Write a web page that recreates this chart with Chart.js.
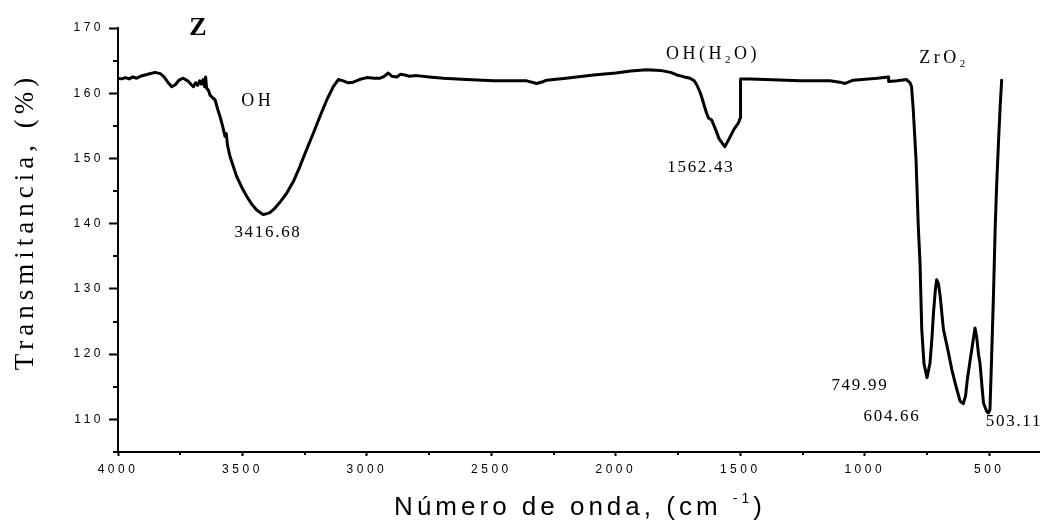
<!DOCTYPE html>
<html>
<head>
<meta charset="utf-8">
<script src="https://cdn.jsdelivr.net/npm/chart.js@4/dist/chart.umd.min.js"></script>
<style>
  html, body { margin: 0; padding: 0; background: #fff; }
  #c { display: block; }
</style>
</head>
<body>
<canvas id="c" width="1045" height="521"></canvas>
<script>
// FTIR spectrum of the Z sample: wavenumber (cm-1) vs transmittance (%)
const waveNumber = [
  4000, 3985, 3970, 3955, 3940, 3925, 3910, 3880, 3851, 3830,
  3815, 3800, 3784, 3770, 3755, 3738, 3720, 3705, 3697, 3688,
  3680, 3672, 3665, 3658, 3652, 3648, 3644, 3636, 3630, 3620,
  3610, 3600, 3590, 3580, 3570, 3565, 3560, 3550, 3537, 3523,
  3503, 3483, 3463, 3443, 3425, 3416.68, 3405, 3390, 3369, 3345,
  3322, 3295, 3269, 3242, 3215, 3188, 3161, 3135, 3115, 3095,
  3075, 3055, 3030, 3001, 2970, 2947, 2930, 2914, 2900, 2880,
  2865, 2847, 2830, 2800, 2750, 2693, 2600, 2492, 2400, 2358,
  2318, 2290, 2278, 2200, 2090, 2000, 1940, 1876, 1822, 1780,
  1755, 1725, 1702, 1685, 1675, 1660, 1648, 1636, 1628, 1615,
  1600, 1585, 1562.43, 1545, 1525, 1508, 1500, 1499, 1461, 1400,
  1260, 1140, 1100, 1079, 1046, 950, 905, 904, 870, 832,
  818, 812, 805, 794, 785, 778, 771, 762, 749.99, 738,
  730, 724, 716, 711, 704, 697, 684, 668, 650, 633,
  617, 604.66, 595, 588, 575, 557, 550, 543, 537, 530,
  523, 510, 503.11, 497, 490, 483, 476, 470, 463, 456,
  450
];
const transmittance = [
  162.3, 162.2, 162.4, 162.2, 162.5, 162.3, 162.6, 162.9, 163.2, 163.0,
  162.5, 161.7, 161.0, 161.3, 162.0, 162.3, 161.9, 161.3, 161.0, 161.6,
  161.2, 161.9, 161.4, 162.1, 161.0, 162.5, 160.8, 160.4, 159.7, 159.3,
  159.0, 157.6, 156.4, 155.0, 153.4, 153.8, 152.0, 150.3, 148.8, 147.2,
  145.6, 144.2, 143.0, 142.1, 141.6, 141.4, 141.5, 141.7, 142.4, 143.5,
  144.7, 146.5, 148.8, 151.4, 153.9, 156.5, 159.0, 161.0, 162.1, 161.9,
  161.6, 161.7, 162.1, 162.4, 162.3, 162.3, 162.6, 163.1, 162.6, 162.5,
  162.9, 162.8, 162.6, 162.7, 162.5, 162.3, 162.1, 161.9, 161.9, 161.9,
  161.5, 161.8, 162.0, 162.3, 162.8, 163.1, 163.4, 163.6, 163.5, 163.2,
  162.8, 162.5, 162.3, 161.9, 161.3, 160.0, 158.5, 157.0, 156.2, 155.9,
  154.5, 153.0, 151.8, 153.0, 154.5, 155.4, 156.2, 162.2, 162.2, 162.1,
  161.9, 161.9, 161.7, 161.5, 162.0, 162.3, 162.5, 161.8, 161.9, 162.1,
  161.6, 161.0, 157.4, 149.8, 139.6, 134.0, 123.8, 118.5, 116.4, 118.6,
  122.5, 126.3, 130.0, 131.4, 130.8, 128.9, 123.8, 121.0, 117.6, 115.0,
  112.8, 112.4, 113.6, 116.1, 119.5, 124.0, 122.5, 120.0, 118.6, 115.5,
  112.5, 111.2, 111.0, 111.5, 120.0, 128.9, 139.4, 146.0, 152.3, 158.0,
  162.0
];

// Axis ticks
const xTickValues = [4000, 3500, 3000, 2500, 2000, 1500, 1000, 500];
const xMinorTicks = [3750, 3250, 2750, 2250, 1750, 1250, 750];
const yTickValues = [110, 120, 130, 140, 150, 160, 170];
const yMinorTicks = [105, 115, 125, 135, 145, 155, 165];

// Band labels, anchored in data units (text centre)
const bandLabels = [
  { parts: [{ t: 'Z' }], x: 3679, y: 170, size: 26, spacing: 0, bold: true },
  { parts: [{ t: 'OH' }], x: 3446, y: 158.8, size: 18, spacing: 3.5 },
  { parts: [{ t: '3416.68' }], x: 3401, y: 138.7, size: 17, spacing: 1.7 },
  { parts: [{ t: 'OH(H' }, { t: '2', sub: true }, { t: 'O)' }], x: 1617, y: 165.9, size: 18, spacing: 3.5 },
  { parts: [{ t: '1562.43' }], x: 1662, y: 148.6, size: 17, spacing: 1.7 },
  { parts: [{ t: 'ZrO' }, { t: '2', sub: true }], x: 689, y: 165.4, size: 18, spacing: 3.5 },
  { parts: [{ t: '749.99' }], x: 1023, y: 115.2, size: 17, spacing: 1.7 },
  { parts: [{ t: '604.66' }], x: 894, y: 110.4, size: 17, spacing: 1.7 },
  { parts: [{ t: '503.11' }], x: 404, y: 109.7, size: 17, spacing: 1.7 }
];

const SERIF = '"Liberation Serif", "Times New Roman", serif';
const SANS = '"Liberation Sans", Arial, sans-serif';

// Draws a run of text pieces (with optional sub/superscripts) centred on cx
function drawRich(ctx, parts, cx, cy, size, spacing, family, bold, baseline) {
  ctx.save();
  ctx.fillStyle = '#000';
  ctx.textAlign = 'left';
  ctx.textBaseline = baseline || 'middle';
  ctx.letterSpacing = spacing + 'px';
  const fontFor = p => {
    const s = (p.sub || p.sup) ? Math.round(size * (p.scale || 0.62)) : size;
    return (bold ? 'bold ' : '') + s + 'px ' + family;
  };
  const widths = parts.map(p => { ctx.font = fontFor(p); return ctx.measureText(p.t).width; });
  const total = widths.reduce((a, b) => a + b, 0) - spacing;
  let x = cx - total / 2;
  parts.forEach((p, i) => {
    ctx.font = fontFor(p);
    let dy = 0;
    if (p.sub) dy = size * 0.32;
    if (p.sup) dy = -(p.rise || size * 0.45);
    ctx.fillText(p.t, x, cy + dy);
    x += widths[i];
  });
  ctx.restore();
}

const decorations = {
  id: 'decorations',
  beforeDraw(chart) {
    chart.ctx.letterSpacing = '3.5px';
  },
  afterDraw(chart) {
    const ctx = chart.ctx;
    ctx.letterSpacing = '0px';
    const xs = chart.scales.x, ys = chart.scales.y;
    const area = chart.chartArea;

    // minor ticks
    ctx.save();
    ctx.strokeStyle = '#000';
    ctx.lineWidth = 2;
    ctx.beginPath();
    yMinorTicks.forEach(v => {
      const py = Math.round(ys.getPixelForValue(v));
      ctx.moveTo(area.left - 5, py);
      ctx.lineTo(area.left, py);
    });
    xMinorTicks.forEach(v => {
      const px = Math.round(xs.getPixelForValue(v));
      ctx.moveTo(px, area.bottom);
      ctx.lineTo(px, area.bottom + 3);
    });
    ctx.stroke();
    ctx.restore();

    // band labels
    bandLabels.forEach(l => {
      drawRich(ctx, l.parts, xs.getPixelForValue(l.x), ys.getPixelForValue(l.y),
        l.size, l.spacing, SERIF, l.bold);
    });

    // axis titles
    ctx.save();
    ctx.translate(33, 224);
    ctx.rotate(-Math.PI / 2);
    drawRich(ctx, [{ t: 'Transmitancia, (%)' }], 0, 0, 27, 5, SERIF, false, 'alphabetic');
    ctx.restore();

    drawRich(ctx, [
      { t: 'Número de onda, (cm ' },
      { t: '-1', sup: true, scale: 0.55, rise: 12 },
      { t: ')' }
    ], 578, 515, 26, 4, SANS, false, 'alphabetic');
  }
};

new Chart(document.getElementById('c'), {
  type: 'line',
  data: {
    datasets: [{
      data: waveNumber.map((x, i) => ({ x, y: transmittance[i] })),
      borderColor: '#000',
      borderWidth: 3,
      borderJoinStyle: 'round',
      borderCapStyle: 'round',
      pointRadius: 0,
      tension: 0,
      fill: false
    }]
  },
  options: {
    responsive: false,
    animation: false,
    layout: { padding: { top: 28, right: 6, left: 0, bottom: 0 } },
    plugins: { legend: { display: false }, tooltip: { enabled: false } },
    scales: {
      x: {
        type: 'linear',
        reverse: true,
        min: 300,
        max: 4000,
        afterBuildTicks: s => { s.ticks = xTickValues.map(v => ({ value: v })); },
        afterFit: s => { s.height = 69; },
        grid: { drawOnChartArea: false, drawTicks: true, tickLength: 4, tickWidth: 2, tickColor: '#000' },
        border: { display: true, color: '#000', width: 2 },
        ticks: {
          color: '#000', padding: 6, maxRotation: 0, autoSkip: false,
          font: { family: SANS, size: 12 },
          callback: v => String(v)
        }
      },
      y: {
        type: 'linear',
        min: 105,
        max: 170,
        afterBuildTicks: s => { s.ticks = yTickValues.map(v => ({ value: v })); },
        afterFit: s => { s.width = 118; },
        grid: { drawOnChartArea: false, drawTicks: true, tickLength: 9, tickWidth: 2, tickColor: '#000' },
        border: { display: true, color: '#000', width: 2 },
        ticks: {
          color: '#000', padding: 5, autoSkip: false,
          font: { family: SANS, size: 12 },
          callback: v => String(v)
        }
      }
    }
  },
  plugins: [decorations]
});
</script>
</body>
</html>
